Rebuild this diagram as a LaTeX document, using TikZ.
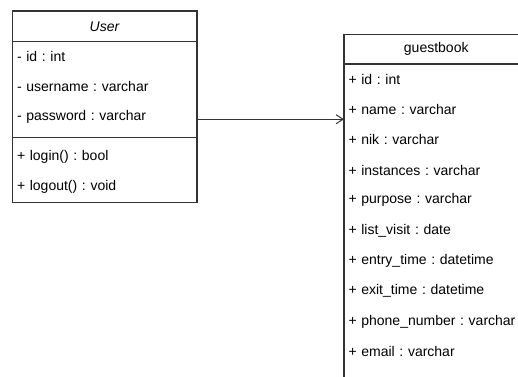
\documentclass[tikz,border=0pt]{standalone}
\usepackage{fontspec}
\setmainfont{Liberation Sans}
\usetikzlibrary{positioning,arrows.meta}

\begin{document}
\begin{tikzpicture}
    [x=1pt, y=-1pt,
    font=\fontsize{14pt}{17pt}\selectfont\frenchspacing,
    frame/.style={draw=black!80, line width=1.1pt},
    head/.style={frame, anchor=north west, minimum width=184.5pt,
        minimum height=30.3pt, inner sep=0pt, outer sep=0pt},
    row/.style={text width=175.5pt, inner xsep=4.5pt, inner ysep=0pt,
        outer sep=0pt, minimum height=30.3pt, align=left},
    gap/.style={minimum width=184.5pt, minimum height=9.3pt,
        inner sep=0pt, outer sep=0pt},
    assoc/.style={draw=black!80, line width=1pt,
        -{Straight Barb[length=7pt, width=9pt]}}]
    \useasboundingbox (0,0) rectangle (518,376);
    \clip (0,0) rectangle (518,376);

    % class User
    \node[head, minimum height=30.5pt] (user) at (12.5,11) {\textit{User}};
    \node[row, below=0pt of user] (uid) {- id : int};
    \node[row, below=0pt of uid] (uname) {- username : varchar};
    \node[row, below=0pt of uname] (upass) {- password : varchar};
    \node[gap, below=0pt of upass] (usep) {};
    \node[row, below=0pt of usep] (ulogin) {+ login() : bool};
    \node[row, below=0pt of ulogin] (ulogout) {+ logout() : void};
    \draw[frame] (user.north west) rectangle (ulogout.south east);
    \draw[frame] (usep.west) -- (usep.east);

    % class guestbook
    \node[head, minimum height=29.5pt] (gbook) at (344,34.5) {guestbook};
    \node[row, below=0pt of gbook] (gid) {+ id : int};
    \node[row, below=0pt of gid] (gname) {+ name : varchar};
    \node[row, below=0pt of gname] (gnik) {+ nik : varchar};
    \node[row, below=0pt of gnik] (ginst) {+ instances : varchar};
    \node[row, below=0pt of ginst] (gpurp) {+ purpose : varchar};
    \node[row, below=0pt of gpurp] (gvisit) {+ list\_visit : date};
    \node[row, below=0pt of gvisit] (gentry) {+ entry\_time : datetime};
    \node[row, below=0pt of gentry] (gexit) {+ exit\_time : datetime};
    \node[row, below=0pt of gexit] (gphone) {+ phone\_number : varchar};
    \node[row, below=0pt of gphone] (gmail) {+ email : varchar};
    \node[row, below=0pt of gmail] (gend) {};
    \draw[frame] (gbook.north west) rectangle (gend.south east);

    \coordinate (tail) at ([yshift=-2pt]upass.east);
    \draw[assoc] (tail) -- (tail -| gbook.west);
\end{tikzpicture}
\end{document}
